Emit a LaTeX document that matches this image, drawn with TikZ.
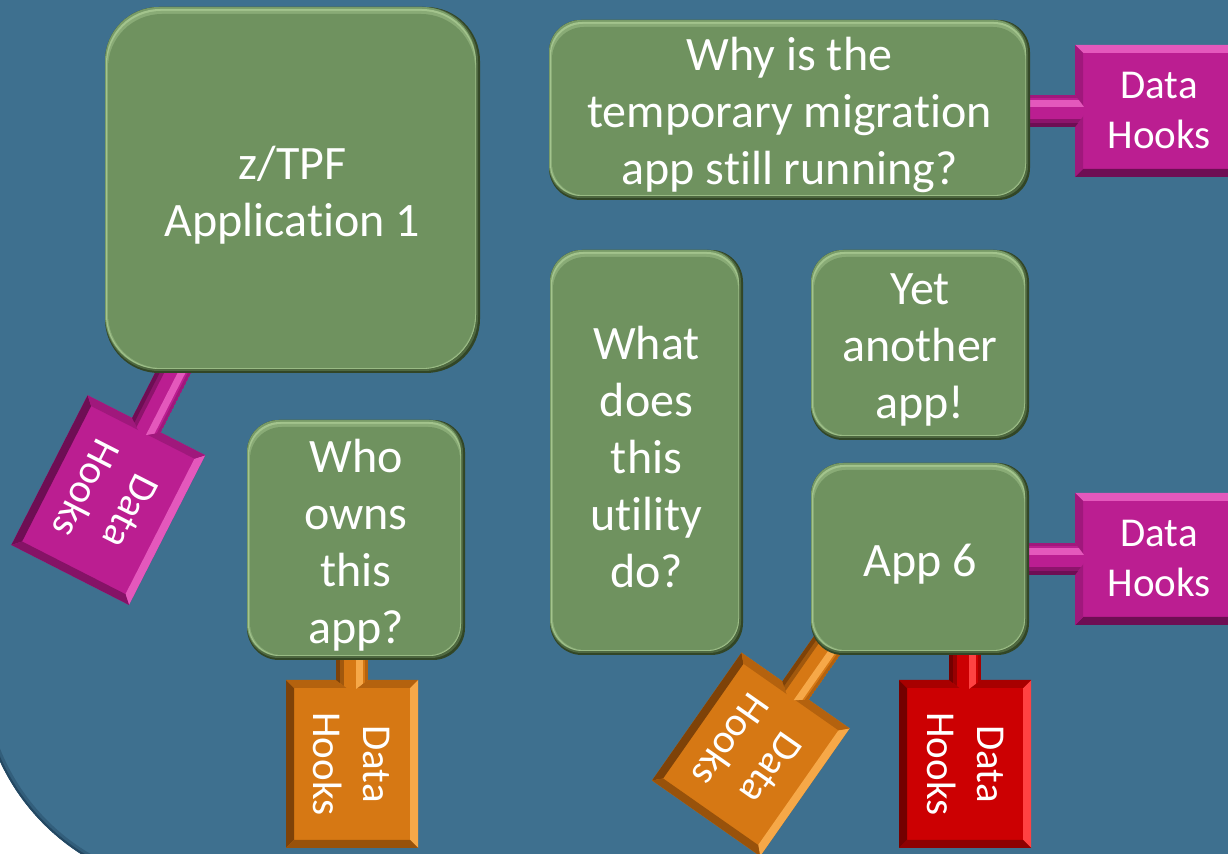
\documentclass[tikz,border=0pt]{standalone}
\usepackage{fontspec}
\setmainfont{Carlito}[Ligatures=NoCommon]
\definecolor{bgblue}{RGB}{62,112,143}
\definecolor{bgedge}{RGB}{36,72,98}
\definecolor{appM}{RGB}{111,146,95}
\definecolor{appL}{RGB}{163,196,141}
\definecolor{appD}{RGB}{50,70,38}
\definecolor{mgM}{RGB}{187,30,145}
\definecolor{mgL}{RGB}{228,88,188}
\definecolor{mgD}{RGB}{110,14,84}
\definecolor{mgS}{RGB}{160,24,124}
\definecolor{orM}{RGB}{214,120,20}
\definecolor{orL}{RGB}{246,168,72}
\definecolor{orD}{RGB}{126,66,8}
\definecolor{orS}{RGB}{180,98,14}
\definecolor{rdM}{RGB}{204,0,2}
\definecolor{rdL}{RGB}{255,66,66}
\definecolor{rdD}{RGB}{116,0,0}
\definecolor{rdS}{RGB}{168,0,0}

% rounded application box with a soft bevel: name, x0, y0, x1, y1, radius, text
\newcommand\appbox[7]{%
  \fill[appD, rounded corners=#6] (#2,#3) rectangle (#4,#5);
  \fill[appD!55!appM, rounded corners=#6] (#2,#3) rectangle ({#4-2},{#5-2});
  \fill[appM!80!appL, rounded corners=#6] (#2,#3) rectangle ({#4-4},{#5-4});
  \fill[appL, rounded corners=#6] ({#2+1},{#3+2}) rectangle ({#4-4},{#5-4});
  \fill[appL!50!appM, rounded corners=#6] ({#2+2},{#3+4}) rectangle ({#4-4.5},{#5-4.5});
  \fill[appM, rounded corners=#6] ({#2+3},{#3+7}) rectangle ({#4-5},{#5-5});
  \node[apptext] (#1) at ({(#2+#4)/2},{(#3+#5)/2}) {#7};
}

% bevelled "Data Hooks" tag with its stem: name, cx, cy, angle, length, stem length, colour set
\newcommand\datahook[7]{%
  \begin{scope}[shift={(#2,#3)}, rotate=#4]
    \pgfmathsetmacro\hooklen{#5/2}
    \fill[#7M] (-\hooklen,-66) rectangle (\hooklen,66);
    \fill[#7L] (-\hooklen,-66) -- (\hooklen,-66) -- ({\hooklen-8},-58) -- ({-\hooklen+8},-58) -- cycle;
    \fill[#7D] (-\hooklen,66) -- (\hooklen,66) -- ({\hooklen-8},58) -- ({-\hooklen+8},58) -- cycle;
    \fill[#7S] (-\hooklen,-66) -- ({-\hooklen+8},-58) -- ({-\hooklen+8},58) -- (-\hooklen,66) -- cycle;
    \fill[#7D!70!#7M] (\hooklen,-66) -- ({\hooklen-8},-58) -- ({\hooklen-8},58) -- (\hooklen,66) -- cycle;
    \begin{scope}
      \clip ({-\hooklen-#6},-16) -- (-\hooklen,-16) -- ({-\hooklen+12},0) -- (-\hooklen,16) -- ({-\hooklen-#6},16) -- cycle;
      \fill[#7M] ({-\hooklen-#6},-16) rectangle ({-\hooklen+12},16);
      \fill[#7S] ({-\hooklen-#6},-16) rectangle ({-\hooklen+12},-13);
      \fill[#7L] ({-\hooklen-#6},-11) rectangle ({-\hooklen+12},-4);
      \fill[#7D!60!#7M] ({-\hooklen-#6},8) rectangle ({-\hooklen+12},16);
      \fill[#7D] ({-\hooklen-#6},12) rectangle ({-\hooklen+12},16);
    \end{scope}
    \node[hooktext, transform shape] (#1) at (0,0) {Data\\Hooks};
  \end{scope}}

\begin{document}
\begin{tikzpicture}[x=0.5pt,y=-0.5pt,
  apptext/.style={text=white, align=center, inner sep=0pt, yshift=-2.5pt,
    font=\fontsize{24pt}{28.5pt}\selectfont},
  hooktext/.style={text=white, align=center, inner sep=0pt,
    font=\fontsize{20.5pt}{25pt}\selectfont}]
\useasboundingbox (0,0) rectangle (1228,854);
\fill[white] (0,0) rectangle (1228,854);

% backdrop panel with a rounded lower-left corner
\fill[bgblue, rounded corners=109pt] (-20,-500) rectangle (1700,888);
\begin{scope}
  \clip[rounded corners=109pt] (-20,-500) rectangle (1700,888);
  \draw[bgedge!45!bgblue, line width=5pt, rounded corners=109pt] (-20,-500) rectangle (1700,888);
  \draw[bgedge, line width=2pt, rounded corners=109pt] (-20,-500) rectangle (1700,888);
\end{scope}

% data hook tags
\datahook{hookApp}{108.3}{500.1}{-117}{168}{85}{mg}
\datahook{hookWhy}{1159}{111}{0}{168}{55}{mg}
\datahook{hookSix}{1159}{559}{0}{168}{55}{mg}
\datahook{hookWho}{352}{764}{-90}{168}{35}{or}
\datahook{hookTilt}{750.8}{754.4}{-125}{156}{65}{or}
\datahook{hookRed}{965}{764}{-90}{168}{35}{rd}

% applications
\appbox{app1}{105}{7}{480}{373}{27pt}{z/TPF\\Application 1}
\appbox{why}{549}{20}{1030}{200}{16pt}{Why is the\\temporary migration\\app still running?}
\appbox{what}{550}{250}{743}{655}{16pt}{What\\does\\this\\utility\\do?}
\appbox{yet}{811}{250}{1029}{440}{16pt}{Yet\\another\\app!}
\appbox{six}{811}{463}{1029}{655}{16pt}{App 6}
\appbox{who}{247}{420}{465}{660}{16pt}{Who\\owns\\this\\app?}
\end{tikzpicture}
\end{document}
